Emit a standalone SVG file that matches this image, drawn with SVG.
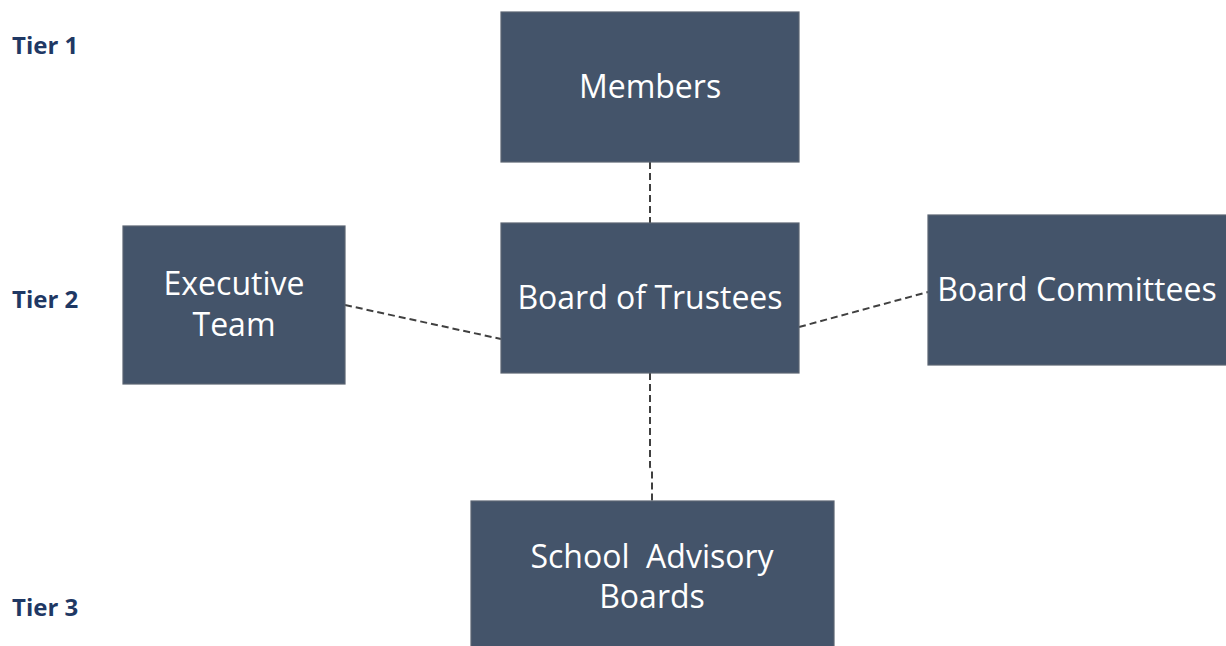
<svg xmlns="http://www.w3.org/2000/svg" width="1226" height="646" viewBox="0 0 1226 646">
<style>
.box{fill:#44546A;stroke:#5a6472;stroke-width:1.2}
.lbl{font-family:"Open Sans","Noto Sans","Liberation Sans",sans-serif;font-size:32px;fill:#ffffff;text-anchor:middle}
.tier{font-family:"Open Sans","Noto Sans","Liberation Sans",sans-serif;font-size:24px;font-weight:bold;fill:#1F3864}
.conn{fill:none;stroke:#404040;stroke-width:2;stroke-dasharray:7 4}
</style>
<rect width="1226" height="646" fill="#ffffff"/>
<g id="tiers">
<text class="tier" x="12" y="54">Tier 1</text>
<text class="tier" x="12" y="308">Tier 2</text>
<text class="tier" x="12" y="616">Tier 3</text>
</g>
<g id="connectors">
<line class="conn" x1="650" y1="162" x2="650" y2="223"/>
<line class="conn" x1="345" y1="305" x2="501" y2="339"/>
<line class="conn" x1="799" y1="327" x2="928" y2="292"/>
<polyline class="conn" points="650,373 650,467 652,471 652,501"/>
</g>
<g id="members">
<rect class="box" x="501" y="12" width="298" height="150"/>
<text class="lbl" x="650" y="98">Members</text>
</g>
<g id="board">
<rect class="box" x="501" y="223" width="298" height="150"/>
<text class="lbl" x="650" y="309">Board of Trustees</text>
</g>
<g id="executive">
<rect class="box" x="123" y="226" width="222" height="158"/>
<text class="lbl" x="234" y="295">Executive</text>
<text class="lbl" x="234" y="336">Team</text>
</g>
<g id="committees">
<rect class="box" x="928" y="215" width="300" height="150"/>
<text class="lbl" x="1077" y="301">Board Committees</text>
</g>
<g id="school">
<rect class="box" x="471" y="501" width="363" height="150"/>
<text class="lbl" x="652" y="568" xml:space="preserve">School  Advisory</text>
<text class="lbl" x="652" y="608">Boards</text>
</g>
</svg>
